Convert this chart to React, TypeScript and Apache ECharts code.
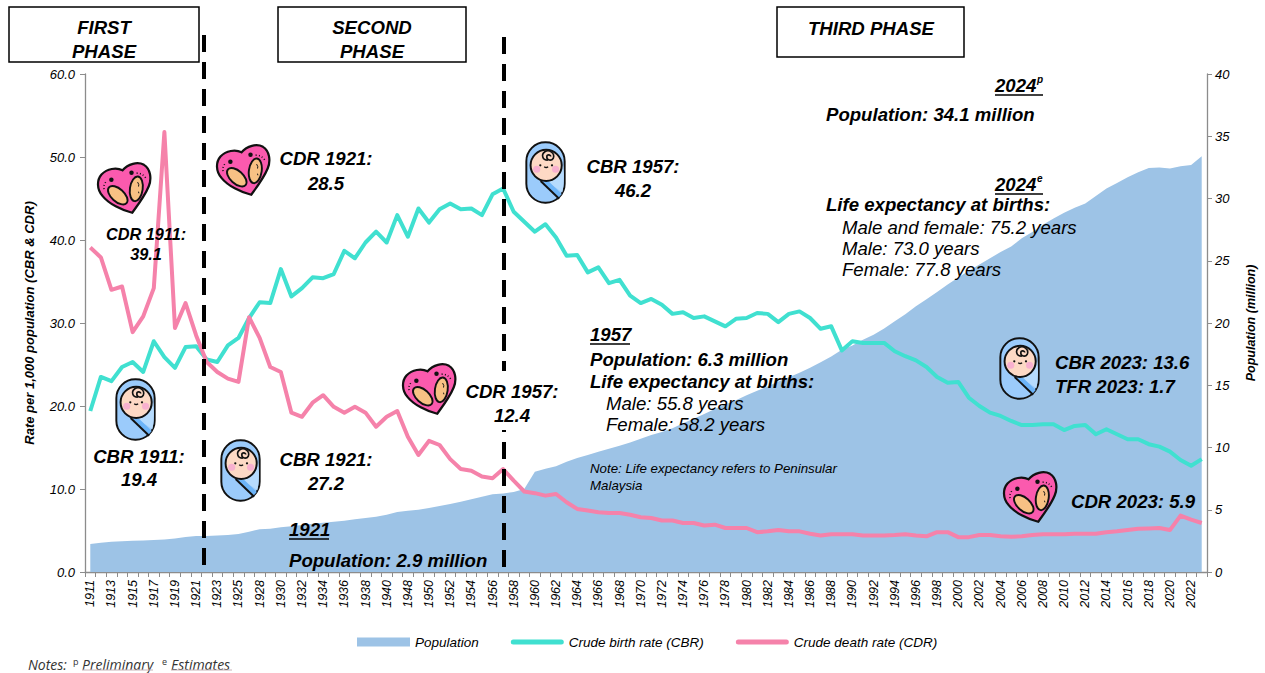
import React, { useEffect, useRef } from "react";
import * as echarts from "echarts";

const years = [
  1911,1912,1913,1914,1915,1916,1917,1918,1919,1920,1921,1922,1923,1924,1925,1927,1928,1929,1930,1931,
  1932,1933,1934,1935,1936,1937,1938,1939,1940,1947,1948,1949,1950,1951,1952,1953,1954,1955,1956,1957,
  1958,1959,1960,1961,1962,1963,1964,1965,1966,1967,1968,1969,1970,1971,1972,1973,1974,1975,1976,1977,
  1978,1979,1980,1981,1982,1983,1984,1985,1986,1987,1988,1989,1990,1991,1992,1993,1994,1995,1996,1997,
  1998,1999,2000,2001,2002,2003,2004,2005,2006,2007,2008,2009,2010,2011,2012,2013,2014,2015,2016,2017,
  2018,2019,2020,2021,2022,2023,
].map(String);

const population = [
  2.25,2.35,2.43,2.46,2.52,2.54,2.57,2.62,2.7,2.81,2.9,2.9,2.94,2.97,3.05,3.24,3.43,3.48,3.59,3.67,
  3.78,3.88,3.96,4.04,4.12,4.23,4.34,4.44,4.6,4.82,4.92,5.0,5.14,5.3,5.46,5.65,5.84,6.05,6.24,6.3,
  6.43,6.67,8.05,8.3,8.5,8.85,9.15,9.4,9.65,9.9,10.15,10.4,10.7,11.0,11.25,11.55,11.95,12.3,12.7,13.1,
  13.45,13.8,14.2,14.55,14.9,15.3,15.65,16.0,16.4,16.85,17.3,17.85,18.2,18.65,19.05,19.55,20.15,20.7,21.35,21.9,
  22.5,23.1,23.65,24.2,24.7,25.2,25.7,26.15,26.8,27.3,27.9,28.4,28.85,29.25,29.6,30.2,30.8,31.25,31.7,32.1,
  32.45,32.5,32.4,32.6,32.7,33.4,
];

const cbr = [
  19.4,23.5,23.0,24.7,25.3,24.1,27.8,25.9,24.6,27.1,27.2,25.6,25.3,27.3,28.2,30.6,32.5,32.4,36.5,33.2,
  34.2,35.5,35.4,35.9,38.7,37.8,39.7,41.0,39.7,43.0,40.4,43.8,42.1,43.7,44.4,43.7,43.8,43.0,45.5,46.2,
  43.4,42.2,41.0,41.9,40.3,38.1,38.2,36.1,36.7,34.8,35.2,33.3,32.4,32.9,32.2,31.1,31.3,30.6,30.8,30.2,
  29.6,30.5,30.6,31.2,31.1,30.1,31.1,31.4,30.6,29.3,29.6,26.7,27.8,27.6,27.6,27.6,26.6,26.0,25.5,24.7,
  23.5,22.8,22.9,21.0,20.0,19.2,18.8,18.2,17.7,17.7,17.8,17.8,17.1,17.6,17.7,16.6,17.2,16.6,16.0,16.0,
  15.4,15.1,14.5,13.5,12.8,13.6,
];

const cdr = [
  39.1,37.9,34.0,34.4,28.9,30.8,34.2,53.0,29.4,32.4,28.5,25.3,24.1,23.3,22.9,30.7,28.2,24.7,24.1,19.2,
  18.7,20.4,21.3,19.9,19.2,19.9,19.2,17.5,18.7,19.4,16.3,14.1,15.8,15.3,13.6,12.4,12.2,11.5,11.3,12.4,
  11.0,9.7,9.5,9.2,9.4,8.4,7.6,7.4,7.2,7.1,7.1,6.9,6.6,6.5,6.2,6.2,5.9,5.9,5.6,5.7,
  5.3,5.3,5.3,4.8,4.9,5.05,4.9,4.9,4.6,4.4,4.55,4.55,4.55,4.4,4.4,4.4,4.45,4.55,4.4,4.3,
  4.8,4.8,4.2,4.2,4.45,4.45,4.3,4.25,4.3,4.45,4.55,4.55,4.55,4.6,4.6,4.6,4.8,4.9,5.05,5.2,
  5.25,5.3,5.05,6.8,6.3,5.9,
];

const FONT = "'Liberation Sans', Arial, sans-serif";
const NOTE_FONT = "'Open Sans', sans-serif";
const LEGEND_LINE = "path://M25,0 H505 A25,25 0 0 1 505,50 H25 A25,25 0 0 1 25,0 Z";

const heartSvg = `<svg xmlns="http://www.w3.org/2000/svg" viewBox="-4 -4 173 169">
<path d="M78 25 C95 5 125 -3 145 8 C165 20 170 50 160 75 C148 105 125 135 108 158 C75 150 35 130 15 105 C-3 85 -3 55 12 38 C30 20 58 15 78 25 Z" fill="#fb5aae" stroke="#111" stroke-width="7"/>
<ellipse cx="63" cy="103" rx="37" ry="20" transform="rotate(42 63 103)" fill="#f8c184" stroke="#111" stroke-width="6"/>
<ellipse cx="121" cy="83" rx="20" ry="39" transform="rotate(8 121 83)" fill="#f8c184" stroke="#111" stroke-width="6"/>
<path d="M125 62 q6 8 3 14 M128 92 l1 5" stroke="#111" stroke-width="3" fill="none"/>
<circle cx="43" cy="55" r="7" fill="#111"/><circle cx="106" cy="33" r="7" fill="#111"/>
<path d="M25 62 Q18 72 20 84 M122 34 Q142 34 152 52" stroke="#111" stroke-width="5" fill="none" stroke-dasharray="3 7"/>
</svg>`;

const babySvg = `<svg xmlns="http://www.w3.org/2000/svg" viewBox="-3 -3 126 194">
<rect x="1" y="1" width="118" height="186" rx="58" ry="58" fill="#9bcbfb" stroke="#111" stroke-width="6"/>
<path d="M58 118 L112 155 C118 130 118 90 114 70 Z" fill="#b6dbfd"/>
<path d="M46 118 L100 172 L110 160 L66 118 Z" fill="#6cb4f8"/>
<path d="M45 120 L102 175" stroke="#111" stroke-width="6" fill="none"/>
<circle cx="62" cy="72" r="48" fill="#fdd9c5" stroke="#111" stroke-width="6"/>
<circle cx="33" cy="84" r="11" fill="#f8b0cf"/><circle cx="91" cy="84" r="11" fill="#f8b0cf"/>
<circle cx="44" cy="72" r="3.5" fill="#111"/><circle cx="80" cy="72" r="3.5" fill="#111"/>
<path d="M56 76 q6 5 12 0" stroke="#111" stroke-width="4" fill="none"/>
<path d="M67 56 C50 56 46 38 58 30 C72 22 90 34 84 50 C78 60 64 56 64 46 C64 38 76 38 76 45" stroke="#111" stroke-width="5" fill="none"/>
</svg>`;

const toUri = (s: string) => "data:image/svg+xml;charset=utf-8," + encodeURIComponent(s);
const heartUri = toUri(heartSvg);
const babyUri = toUri(babySvg);

type TextOpts = { size?: number; bold?: boolean; align?: string };
const txt = (text: string, x: number, y: number, o: TextOpts = {}) => ({
  type: "text",
  x,
  y: y - 1,
  z: 20,
  silent: true,
  style: {
    text,
    fill: "#000",
    fontFamily: FONT,
    fontStyle: "italic",
    fontWeight: o.bold === false ? "normal" : "bold",
    fontSize: o.size ?? 18.6,
    textAlign: o.align ?? "left",
    textVerticalAlign: "middle",
  },
});
const noteTxt = (text: string, x: number, y: number, size = 14, italic = true) => ({
  type: "text",
  x,
  y,
  z: 20,
  silent: true,
  style: {
    text,
    fill: "#333",
    fontFamily: NOTE_FONT,
    fontStyle: italic ? "italic" : "normal",
    fontSize: size,
    textVerticalAlign: "middle",
  },
});
const ul = (x1: number, x2: number, y: number, stroke = "#000", lineWidth = 1.6) => ({
  type: "line",
  z: 20,
  silent: true,
  shape: { x1, y1: y, x2, y2: y },
  style: { stroke, lineWidth },
});
const box = (x: number, y: number, width: number, height: number) => ({
  type: "rect",
  z: 18,
  silent: true,
  shape: { x, y, width, height },
  style: { fill: "#fff", stroke: "#000", lineWidth: 1.5 },
});
const dash = (x: number, y1: number, y2: number) => ({
  type: "line",
  z: 15,
  silent: true,
  shape: { x1: x, y1, x2: x, y2 },
  style: { stroke: "#000", lineWidth: 4, lineDash: [17, 10] },
});
const icon = (uri: string, x: number, y: number, width: number, height: number) => ({
  type: "image",
  z: 17,
  silent: true,
  style: { image: uri, x, y, width, height },
});
const baby = (x: number, y: number) => icon(babyUri, x, y, 41, 63);
const heart = (x: number, y: number) => icon(heartUri, x, y, 56, 54);

const annotations = [
  dash(204, 35, 572),
  dash(504, 37, 572),
  {
    type: "rect",
    z: 16,
    silent: true,
    shape: { x: 466, y: 371, width: 96, height: 59 },
    style: { fill: "#fff" },
  },
  box(9, 7, 190, 55),
  box(278, 7, 188, 55),
  box(777, 7, 187, 50),
  txt("FIRST", 104, 28, { align: "center" }),
  txt("PHASE", 104, 52, { align: "center" }),
  txt("SECOND", 372, 28, { align: "center" }),
  txt("PHASE", 372, 52, { align: "center" }),
  txt("THIRD PHASE", 871, 29, { align: "center" }),
  heart(96, 161),
  heart(215, 143),
  heart(401, 362),
  heart(1002, 470),
  baby(115, 378),
  baby(220, 439),
  baby(525, 141),
  baby(999, 337),
  txt("CDR 1921:", 326, 159, { align: "center" }),
  txt("28.5", 326, 184, { align: "center" }),
  txt("CBR 1957:", 633, 167, { align: "center" }),
  txt("46.2", 633, 191, { align: "center" }),
  txt("CDR 1911:", 146, 235, { align: "center", size: 16.3 }),
  txt("39.1", 146, 255, { align: "center", size: 16.3 }),
  txt("CBR 1911:", 139, 457, { align: "center" }),
  txt("19.4", 139, 480, { align: "center" }),
  txt("CBR 1921:", 326, 460, { align: "center" }),
  txt("27.2", 326, 484, { align: "center" }),
  txt("CDR 1957:", 512, 392, { align: "center" }),
  txt("12.4", 512, 416, { align: "center" }),
  txt("CBR 2023: 13.6", 1055, 363),
  txt("TFR 2023: 1.7", 1055, 387),
  txt("CDR 2023: 5.9", 1071, 502),
  txt("1921", 289, 530),
  ul(289, 329, 539),
  txt("Population: 2.9 million", 289, 561),
  txt("1957", 590, 335),
  ul(590, 630, 344),
  txt("Population: 6.3 million", 590, 360),
  txt("Life expectancy at births:", 590, 382),
  txt("Male: 55.8 years", 606, 404, { bold: false }),
  txt("Female: 58.2 years", 606, 425, { bold: false }),
  txt("Note: Life expectancy refers to Peninsular", 590, 469, { bold: false, size: 13.3 }),
  txt("Malaysia", 590, 486, { bold: false, size: 13.3 }),
  txt("2024", 995, 86),
  txt("p", 1037, 80, { size: 10 }),
  ul(995, 1043, 95),
  txt("Population: 34.1 million", 826, 115),
  txt("2024", 995, 185),
  txt("e", 1037, 179, { size: 10 }),
  ul(995, 1043, 194),
  txt("Life expectancy at births:", 826, 205),
  txt("Male and female: 75.2 years", 842, 228, { bold: false }),
  txt("Male: 73.0 years", 842, 249, { bold: false }),
  txt("Female: 77.8 years", 842, 270, { bold: false }),
  noteTxt("Notes:", 28, 664),
  noteTxt("p", 73, 661, 9, false),
  noteTxt("Preliminary", 82, 664),
  ul(82, 153, 670, "#c9b4b8", 1),
  noteTxt("e", 162, 661, 9, false),
  noteTxt("Estimates", 171, 664),
  ul(171, 232, 670, "#c9b4b8", 1),
];

const axisLine = { show: true, lineStyle: { color: "#8c8c8c", width: 1.3 } };
const axisTick = { show: true, length: 5, lineStyle: { color: "#8c8c8c", width: 1 } };
const tickText = { color: "#000", fontFamily: FONT, fontStyle: "italic", fontSize: 13 };
const nameText = { color: "#000", fontFamily: FONT, fontStyle: "italic", fontWeight: "bold" };

export default function App() {
  const ref = useRef<HTMLDivElement>(null);
  useEffect(() => {
    document.body.style.margin = "0";
    const chart = echarts.init(ref.current!, undefined, { renderer: "svg" });
    chart.setOption({
      animation: false,
      backgroundColor: "#fff",
      grid: { left: 85, right: 57, top: 74, bottom: 101, containLabel: false },
      legend: {
        left: 352,
        top: 630,
        itemWidth: 53,
        itemHeight: 9,
        itemGap: 32,
        textStyle: { color: "#000", fontFamily: FONT, fontStyle: "italic", fontSize: 13.5 },
        data: [
          { name: "Population", icon: "rect" },
          { name: "Crude birth rate (CBR)", icon: LEGEND_LINE },
          { name: "Crude death rate (CDR)", icon: LEGEND_LINE },
        ],
      },
      xAxis: {
        type: "category",
        data: years,
        boundaryGap: true,
        axisLine,
        axisTick: { ...axisTick, alignWithLabel: false, interval: 0 },
        axisLabel: { ...tickText, fontSize: 12.5, rotate: 90, interval: 1, margin: 8 },
      },
      yAxis: [
        {
          type: "value",
          min: 0,
          max: 60,
          interval: 10,
          position: "left",
          name: "Rate per 1,000 population (CBR & CDR)",
          nameLocation: "middle",
          nameGap: 49,
          nameTextStyle: { ...nameText, fontSize: 13 },
          axisLine,
          axisTick,
          splitLine: { show: false },
          axisLabel: { ...tickText, margin: 10, formatter: (v: number) => v.toFixed(1) },
        },
        {
          type: "value",
          min: 0,
          max: 40,
          interval: 5,
          position: "right",
          name: "Population (million)",
          nameLocation: "middle",
          nameGap: 37,
          nameTextStyle: { ...nameText, fontSize: 12.5 },
          axisLine,
          axisTick,
          splitLine: { show: false },
          axisLabel: { ...tickText, margin: 8 },
        },
      ],
      series: [
        {
          name: "Population",
          type: "line",
          yAxisIndex: 1,
          data: population,
          showSymbol: false,
          symbol: "none",
          lineStyle: { width: 0, color: "#9dc3e6" },
          itemStyle: { color: "#9dc3e6" },
          areaStyle: { color: "#9dc3e6", opacity: 1 },
          z: 1,
        },
        {
          name: "Crude birth rate (CBR)",
          type: "line",
          yAxisIndex: 0,
          data: cbr,
          showSymbol: false,
          symbol: "none",
          lineStyle: { width: 4, color: "#40e0d0", join: "round" },
          itemStyle: { color: "#40e0d0" },
          z: 3,
        },
        {
          name: "Crude death rate (CDR)",
          type: "line",
          yAxisIndex: 0,
          data: cdr,
          showSymbol: false,
          symbol: "none",
          lineStyle: { width: 4, color: "#f582aa", join: "round" },
          itemStyle: { color: "#f582aa" },
          z: 4,
        },
      ],
      graphic: { elements: annotations },
    });
    return () => chart.dispose();
  }, []);
  return <div ref={ref} style={{ width: 1265, height: 673 }} />;
}
